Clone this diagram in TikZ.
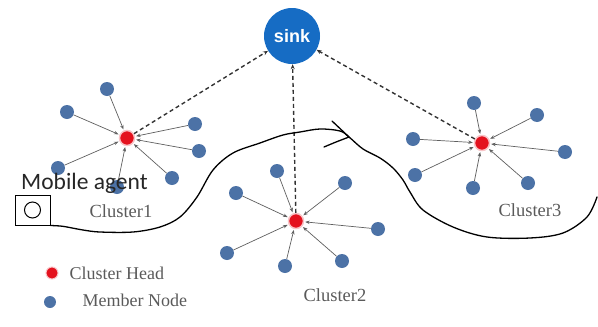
\documentclass[tikz,border=0pt]{standalone}
\usepackage{fontspec}
\setmainfont{Liberation Serif}
\newfontfamily\agentfont{Carlito}
\newfontfamily\sinkfont{Liberation Sans}
\usetikzlibrary{arrows.meta}

\definecolor{sinkblue}{RGB}{22,108,196}
\definecolor{memberblue}{RGB}{76,114,166}
\definecolor{headred}{RGB}{228,18,30}
\definecolor{linkgray}{RGB}{95,95,95}
\definecolor{labelgray}{RGB}{90,90,90}

\tikzset{
  member/.style={circle,fill=memberblue,minimum size=14pt,inner sep=0pt},
  head/.style={circle,fill=headred,draw=headred!25,line width=1.5pt,minimum size=15pt,inner sep=0pt},
  sinknode/.style={circle,fill=sinkblue,minimum size=56pt,inner sep=0pt,text=white,
    font=\sinkfont\bfseries\fontsize{18}{18}\selectfont},
  report/.style={linkgray,line width=0.7pt,-{Stealth[length=4.5pt,width=3.5pt]},shorten >=1pt},
  uplink/.style={black!80,line width=1.4pt,dash pattern=on 4pt off 3pt,
    -{Stealth[length=5pt,width=4pt]}},
  clusterlabel/.style={text=labelgray,font=\fontsize{18.5}{18.5}\selectfont},
  legendlabel/.style={anchor=west,text=labelgray,font=\fontsize{18}{18}\selectfont},
  route/.style={black,line width=1.3pt,line join=round,line cap=round},
}

\begin{document}
\begin{tikzpicture}[x=1pt,y=-1pt]
\useasboundingbox (0,0) rectangle (598,327);

% sink
\node[sinknode] (sink) at (292,36) {sink};

% cluster heads
\node[head] (h1) at (127,138) {};
\node[head] (h2) at (296,221) {};
\node[head] (h3) at (482,143) {};

% cluster 1 members
\node[member] (m11) at (107,89) {};
\node[member] (m12) at (67,112) {};
\node[member] (m13) at (195,124) {};
\node[member] (m14) at (199,151) {};
\node[member] (m15) at (58,168) {};
\node[member] (m16) at (172,178) {};
\node[member] (m17) at (117,187) {};

% cluster 2 members
\node[member] (m21) at (277,171) {};
\node[member] (m22) at (236,193) {};
\node[member] (m23) at (345,183) {};
\node[member] (m24) at (378,229) {};
\node[member] (m25) at (227,253) {};
\node[member] (m26) at (285,266) {};
\node[member] (m27) at (342,261) {};

% cluster 3 members
\node[member] (m31) at (474,103) {};
\node[member] (m32) at (537,115) {};
\node[member] (m33) at (413,139) {};
\node[member] (m34) at (565,152) {};
\node[member] (m35) at (415,175) {};
\node[member] (m36) at (473,188) {};
\node[member] (m37) at (528,183) {};

% member -> head reports
\foreach \c in {1,2,3}{
  \foreach \m in {1,...,7}{
    \draw[report] (m\c\m) -- (h\c);
  }
}

% head -> sink uplinks
\draw[uplink] (h1) -- (sink);
\draw[uplink] (h2) -- (sink);
\draw[uplink] (h3) -- (sink);

% cluster labels
\node[clusterlabel] (c1) at (121,211) {Cluster1};
\node[clusterlabel] (c2) at (335,295) {Cluster2};
\node[clusterlabel] (c3) at (530,210) {Cluster3};

% mobile agent
\node[draw=black,line width=1pt,minimum width=35pt,minimum height=30pt,inner sep=0pt] (agent) at (32.5,210) {};
\node[circle,draw=black,line width=1pt,minimum size=16pt,inner sep=0pt] (agentdot) at (agent.center) {};
\node[anchor=west,text=black!85,font=\agentfont\fontsize{23.5}{23.5}\selectfont,inner sep=0pt] (agentlabel) at (21,183) {Mobile agent};

% route of the mobile agent
\coordinate (r0) at (agent.south east);
\coordinate (tip) at (349,137);
\draw[route] plot[smooth,tension=0.55] coordinates {
  (r0) (60,226) (67,227) (83,230) (100,232) (133,232) (160,227) (180,217)
  (197,197) (213,170) (233,153) (260,143) (283,135) (300,132) (320,129)
  (340,131) (tip) (363,149) (380,158) (393,168) (403,180) (410,192)
  (423,210) (453,227) (487,237) (530,238) (563,233) (587,217) (597,197)};
\draw[route] (332,121) -- (tip) -- (336,142) -- (324,147);

% legend
\node[head,minimum size=12pt,line width=1pt] (lh) at (52,273) {};
\node[legendlabel] (lht) at (66,273) {Cluster Head};
\node[member,minimum size=12pt] (lm) at (50,302) {};
\node[legendlabel] (lmt) at (79,300) {Member Node};
\end{tikzpicture}
\end{document}
